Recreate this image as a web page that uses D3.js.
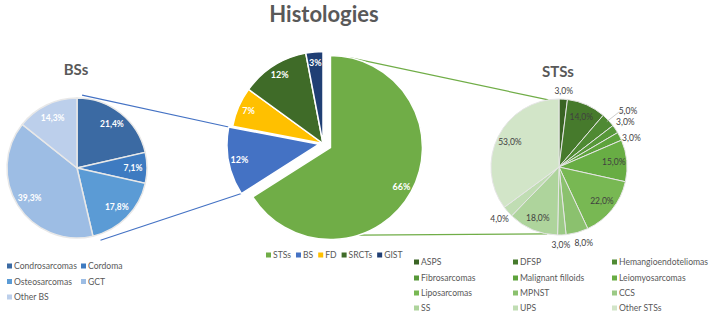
<!DOCTYPE html>
<html lang="en">
<head>
    <meta charset="UTF-8">
    <script src="https://d3js.org/d3.v7.min.js"></script>
    <title>Histologies</title>
    <style>
        body { margin: 0; background: #fff; }
        text { font-family: Lato, "Noto Sans", sans-serif; }
    </style>
</head>
<body>
    <script>

        // main pie
        var mainCats = ["STSs", "BS", "FD", "SRCTs", "GIST"];
        var mainValues = [66, 12, 7, 12, 3];
        var mainColors = ["#70ad47", "#4472c4", "#ffc000", "#3f6b28", "#203f74"];

        // bone sarcomas
        var bsCats = ["Condrosarcomas", "Cordoma", "Osteosarcomas", "GCT", "Other BS"];
        var bsValues = [21.4, 7.1, 17.8, 39.3, 14.3];
        var bsColors = ["#3b6aa3", "#3e7bc1", "#5b9bd5", "#9dbde4", "#bccfeb"];

        // soft tissue sarcomas
        var stsCats = ["ASPS", "DFSP", "Hemangioendoteliomas", "Fibrosarcomas", "Malignant filloids", "Leiomyosarcomas",
                       "Liposarcomas", "MPNST", "CCS", "SS", "UPS", "Other STSs"];
        var stsValues = [3, 14, 5, 3, 3, 15, 22, 8, 3, 18, 4, 53];
        var stsColors = ["#3a6424", "#467a2c", "#4f8a33", "#579839", "#5ea33c", "#68ad44", "#78b853",
                         "#8bc16e", "#9cca86", "#aed49c", "#c0ddb3", "#d2e5c8"];

        var svg = d3.select("body").append("svg").attr("width", 709).attr("height", 317);

        function pt(a, r) { return [r * Math.sin(a), -r * Math.cos(a)]; }
        var pie = d3.pie().sort(null).value(d => d);
        var rad = Math.PI / 180;
        var pct = d => d3.format(".1f")(d).replace(".", ",") + "%";

        // titles
        svg.append("text").attr("x", 324).attr("y", 22).attr("text-anchor", "middle")
           .style("font-size", "22px").style("font-weight", "bold").style("fill", "#595959").text("Histologies");
        svg.append("text").attr("x", 76).attr("y", 75).attr("text-anchor", "middle")
           .style("font-size", "15px").style("font-weight", "bold").style("fill", "#595959").text("BSs");
        svg.append("text").attr("x", 558).attr("y", 77).attr("text-anchor", "middle")
           .style("font-size", "15px").style("font-weight", "bold").style("fill", "#595959").text("STSs");

        // ---- center pie
        var mc = [323, 143.5], mr = 92;
        var explode = {"STSs": 8.5, "BS": 4};
        var mainArcs = pie(mainValues);
        var arcM = d3.arc().innerRadius(0).outerRadius(mr);
        function offs(d, i) {
            var e = explode[mainCats[i]] || 0;
            var p = pt((d.startAngle + d.endAngle) / 2, e);
            return [mc[0] + p[0], mc[1] + p[1]];
        }

        // connector lines
        var lc = [77, 168], lr = 70;
        var rc = [559, 167], rr = 68;
        var bsArc = mainArcs[1], stsArc = mainArcs[0];
        var bo = offs(bsArc, 1), so = offs(stsArc, 0);
        var lines = [
            [lc, pt(4 * rad, 73), bo, pt(bsArc.endAngle, mr), "#4472c4"],
            [lc, pt(162 * rad, 76), bo, pt(bsArc.startAngle, mr), "#4472c4"],
            [so, pt(12 * rad, mr), rc, pt(-9 * rad, rr), "#70ad47"],
            [so, pt(162 * rad, mr), rc, pt(190 * rad, rr), "#70ad47"]
        ];
        svg.selectAll("line.conn").data(lines).enter().append("line").attr("class", "conn")
           .attr("x1", d => d[0][0] + d[1][0]).attr("y1", d => d[0][1] + d[1][1])
           .attr("x2", d => d[2][0] + d[3][0]).attr("y2", d => d[2][1] + d[3][1])
           .style("stroke", d => d[4]).style("stroke-width", 1.2);

        var mg = svg.append("g");
        mg.selectAll("path").data(mainArcs).enter().append("path")
          .attr("transform", (d, i) => "translate(" + offs(d, i) + ")")
          .attr("d", arcM).style("fill", (d, i) => mainColors[i])
          .style("stroke", "#fff").style("stroke-width", 1.5);
        mg.selectAll("text").data(mainArcs).enter().append("text")
          .attr("transform", (d, i) => {
              var o = offs(d, i), p = pt((d.startAngle + d.endAngle) / 2, 81);
              return "translate(" + (o[0] + p[0]) + "," + (o[1] + p[1]) + ")";
          })
          .attr("text-anchor", "middle").attr("dy", "0.35em")
          .style("font-size", "9px").style("font-weight", "bold").style("fill", "#fff")
          .text(d => d.data + "%");

        // ---- left pie (BSs)
        var arcL = d3.arc().innerRadius(0).outerRadius(lr);
        var lg = svg.append("g").attr("transform", "translate(" + lc + ")");
        var bsArcs = pie(bsValues);
        lg.selectAll("path").data(bsArcs).enter().append("path")
          .attr("d", arcL).style("fill", (d, i) => bsColors[i])
          .style("stroke", "#e8e8e8").style("stroke-width", 1.5);
        lg.selectAll("text").data(bsArcs).enter().append("text")
          .attr("transform", d => "translate(" + pt((d.startAngle + d.endAngle) / 2, 56) + ")")
          .attr("text-anchor", "middle").attr("dy", "0.35em")
          .style("font-size", "8.5px").style("font-weight", "bold").style("fill", "#fff")
          .text(d => pct(d.data));

        // ---- right pie (STSs)
        var arcR = d3.arc().innerRadius(0).outerRadius(rr);
        var rg = svg.append("g").attr("transform", "translate(" + rc + ")");
        var stsArcs = pie(stsValues);
        // label radius and angle shift (deg) for labels drawn outside the pie
        var outside = {"ASPS": [76, 0], "Hemangioendoteliomas": [89, 4.3], "Fibrosarcomas": [80, 0],
                       "Malignant filloids": [78, 5], "MPNST": [80, -2.5], "CCS": [78, 1], "UPS": [79, 0]};
        rg.selectAll("path").data(stsArcs).enter().append("path")
          .attr("d", arcR).style("fill", (d, i) => stsColors[i])
          .style("stroke", "#e6e6e6").style("stroke-width", 1);
        // leader line for the 5,0% label
        var h = stsArcs[2], hm = (h.startAngle + h.endAngle) / 2;
        var p1 = pt(hm, rr - 2), p2 = pt(hm + 1 * rad, 81);
        rg.append("polyline").attr("points", [p1, p2, [p2[0] + 4, p2[1]]].join(" "))
          .style("fill", "none").style("stroke", "#bfbfbf").style("stroke-width", 0.8);
        rg.selectAll("text").data(stsArcs).enter().append("text")
          .attr("transform", (d, i) => {
              var o = outside[stsCats[i]] || [55, 0];
              var p = pt((d.startAngle + d.endAngle) / 2 + o[1] * rad, o[0]);
              return "translate(" + p + ")";
          })
          .attr("text-anchor", "middle").attr("dy", "0.35em")
          .style("font-size", "8.5px").style("fill", "#404040")
          .text(d => pct(d.data));

        // ---- legends
        function legendItem(g, x, y, color, label) {
            g.append("rect").attr("x", x).attr("y", y - 2.5).attr("width", 5).attr("height", 5).style("fill", color);
            return g.append("text").attr("x", x + 7).attr("y", y).attr("dy", "0.35em")
                    .style("font-size", "8.6px").style("fill", "#595959").text(label);
        }

        var leg = svg.append("g");
        bsCats.forEach((c, i) => legendItem(leg, [7, 81][i % 2], [266, 281.5, 297][Math.floor(i / 2)], bsColors[i], c));

        var cx = 266;
        mainCats.forEach((c, i) => {
            var t = legendItem(leg, cx, 255, mainColors[i], c);
            cx += 7 + t.node().getComputedTextLength() + 5;
        });

        stsCats.forEach((c, i) => legendItem(leg, [414, 513, 612][i % 3], [262, 278, 293, 308][Math.floor(i / 3)], stsColors[i], c));

    </script>
</body>
</html>
